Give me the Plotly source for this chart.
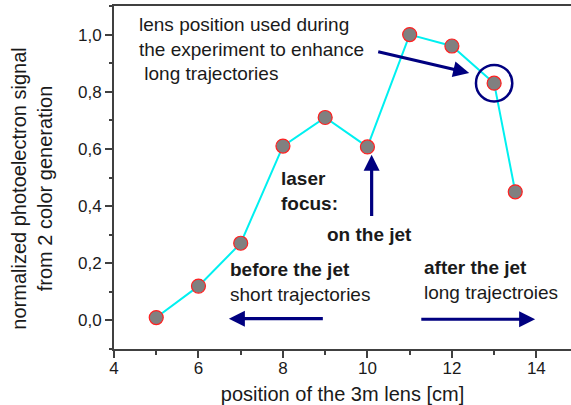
import plotly.graph_objects as go

# lens position [cm] and normalized photoelectron signal
lens_pos = [5, 6, 7, 8, 9, 10, 11, 12, 13, 13.5]
signal = [0.01, 0.12, 0.27, 0.61, 0.71, 0.607, 1.0, 0.96, 0.83, 0.45]

x_ticks = [4, 6, 8, 10, 12, 14]
y_ticks = [0.0, 0.2, 0.4, 0.6, 0.8, 1.0]
y_tick_text = ["0,0", "0,2", "0,4", "0,6", "0,8", "1,0"]

FONT = "Arial, 'Liberation Sans', sans-serif"
TXT = "#1a1a1a"
AXIS = "#404040"
NAVY = "#000080"

fig = go.Figure()
fig.add_trace(go.Scatter(
    x=lens_pos, y=signal, mode="lines+markers",
    line=dict(color="#00f0f0", width=2),
    marker=dict(size=14, color="#808080", line=dict(color="#ff2020", width=1.2)),
    showlegend=False, cliponaxis=False,
))

# marked working point at 13 cm
sel_x, sel_y = lens_pos[8], signal[8]
rx, ry = 0.43, 0.064
fig.add_shape(type="circle", xref="x", yref="y",
              x0=sel_x - rx, x1=sel_x + rx, y0=sel_y - ry, y1=sel_y + ry,
              line=dict(color=NAVY, width=2.5))

def arrow(x0, y0, x1, y1):
    fig.add_annotation(x=x1, y=y1, ax=x0, ay=y0, xref="x", yref="y",
                       axref="x", ayref="y", text="", showarrow=True,
                       arrowhead=2, arrowsize=1.0, arrowwidth=3.2,
                       arrowcolor=NAVY)

arrow(10.22, 0.941, 12.41, 0.866)
arrow(10.10, 0.36, 10.10, 0.58)
arrow(8.98, 0.006, 6.72, 0.006)
arrow(11.24, 0.004, 13.97, 0.004)

def label(x, y, text):
    fig.add_annotation(x=x, y=y, xref="x", yref="y", text=text,
                       showarrow=False, xanchor="left", yanchor="middle",
                       align="left",
                       font=dict(family=FONT, size=19, color=TXT))

label(4.55, 0.948, "lens position used during<br>the experiment to enhance<br>\u00a0long trajectories")
label(7.91, 0.453, "<b>laser</b><br><b>focus:</b>")
label(8.99, 0.299, "<b>on the jet</b>")
label(6.70, 0.134, "<b>before the jet</b><br>short trajectories")
label(11.30, 0.143, "<b>after the jet</b><br>long trajectroies")

# y-axis title as two rotated lines
fig.add_annotation(x=-0.179, y=0.468, xref="paper", yref="paper",
                   text="normalized photoelectron signal<br>from 2 color generation",
                   textangle=-90, showarrow=False, xanchor="center", yanchor="middle",
                   font=dict(family=FONT, size=20, color=TXT))

fig.update_xaxes(
    range=[4, 14.82], tickvals=x_ticks, ticks="outside", ticklen=7, tickwidth=1.5,
    tickcolor=AXIS, showline=True, linecolor=AXIS, linewidth=2, mirror=True,
    showgrid=False, zeroline=False, ticklabelstandoff=-4,
    minor=dict(dtick=1, tick0=4, ticks="outside", ticklen=4, tickcolor=AXIS, showgrid=False),
    tickfont=dict(family=FONT, size=17, color=TXT),
    title=dict(text="position of the 3m lens [cm]", standoff=10,
               font=dict(family=FONT, size=20, color=TXT)),
)
fig.update_yaxes(
    range=[-0.1, 1.1], tickvals=y_ticks, ticktext=y_tick_text, ticks="outside",
    ticklen=7, tickwidth=1.5, tickcolor=AXIS, showline=True, linecolor=AXIS,
    linewidth=2, showgrid=False, zeroline=False,
    minor=dict(dtick=0.1, tick0=0, ticks="outside", ticklen=3, tickcolor=AXIS, showgrid=False),
    tickfont=dict(family=FONT, size=17, color=TXT),
)

fig.update_layout(
    width=571, height=405,
    margin=dict(l=114, r=0, t=6, b=56),
    plot_bgcolor="white", paper_bgcolor="white",
)

fig.write_html("out.html")
